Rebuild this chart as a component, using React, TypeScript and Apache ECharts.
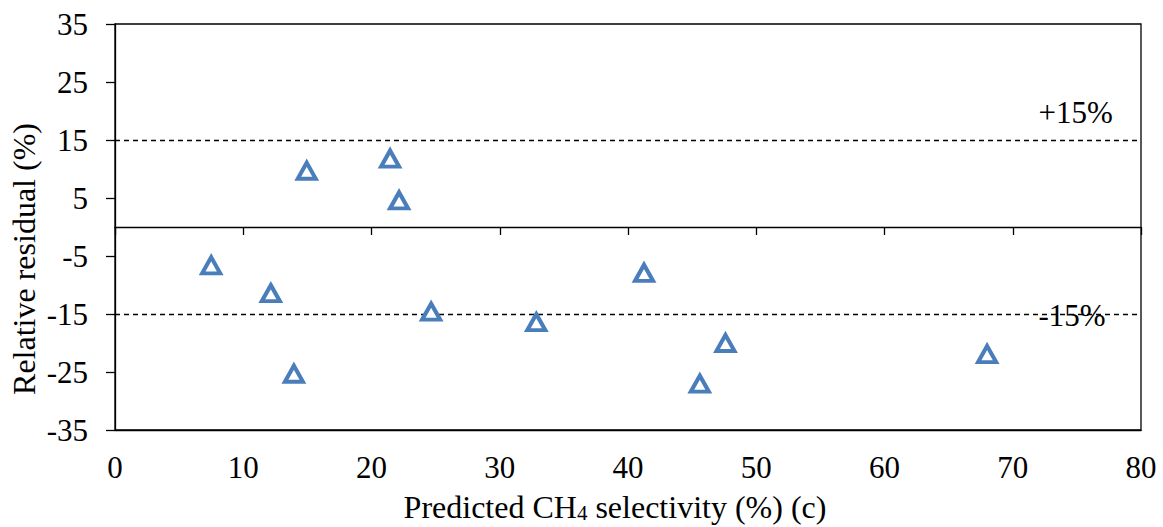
import React, { useEffect, useRef } from "react";
import * as echarts from "echarts";

const xValues = [7.5, 12.15, 13.95, 14.95, 21.45, 22.15, 24.65, 32.85, 41.25, 45.6, 47.6, 68.0];
const yValues = [-6.6, -11.4, -25.3, 9.7, 11.8, 4.6, -14.6, -16.4, -7.9, -27.0, -20.0, -21.9];
const limitLines = [15, -15];
const limitLabels = ["+15%", "-15%"];
const xTitle = "Predicted CH";
const yTitle = "Relative residual (%)";

const FONT = "Liberation Serif";

export default function App() {
  const ref = useRef<HTMLDivElement>(null);
  useEffect(() => {
    if (!ref.current) return;
    const chart = echarts.init(ref.current, undefined, { renderer: "svg" });
    const data = xValues.map((x, i) => [x, yValues[i]]);
    chart.setOption({
      animation: false,
      backgroundColor: "#ffffff",
      textStyle: { fontFamily: FONT },
      grid: {
        left: 115,
        top: 24,
        right: 22,
        bottom: 97,
        show: true,
        borderColor: "#000",
        borderWidth: 1.3,
      },
      xAxis: [
        {
          type: "value",
          min: 0,
          max: 80,
          interval: 10,
          position: "bottom",
          axisLine: { show: true, onZero: false, lineStyle: { color: "#000", width: 1.3 } },
          axisTick: { show: false },
          splitLine: { show: false },
          axisLabel: { color: "#000", fontSize: 31, fontFamily: FONT, margin: 22 },
        },
        {
          type: "value",
          min: 0,
          max: 80,
          interval: 10,
          position: "top",
          axisLine: { show: true, onZero: true, lineStyle: { color: "#000", width: 1.3 } },
          axisTick: { show: true, inside: true, length: 8, lineStyle: { color: "#000", width: 1.3 } },
          splitLine: { show: false },
          axisLabel: { show: false },
        },
      ],
      yAxis: {
        type: "value",
        min: -35,
        max: 35,
        interval: 10,
        axisLine: { show: true, onZero: false, lineStyle: { color: "#000", width: 1.3 } },
        axisTick: { show: true, length: 9, lineStyle: { color: "#000", width: 1.3 } },
        splitLine: { show: false },
        axisLabel: { color: "#000", fontSize: 31, fontFamily: FONT, margin: 27 },
      },
      series: [
        {
          type: "scatter",
          xAxisIndex: 0,
          data,
          symbol: "triangle",
          symbolSize: [18, 16],
          itemStyle: { color: "#ffffff", borderColor: "#4a7ebb", borderWidth: 4, opacity: 1 },
          markLine: {
            silent: true,
            symbol: "none",
            label: { show: false },
            lineStyle: { color: "#000", type: [5, 4], width: 1.3 },
            data: limitLines.map((v) => ({ yAxis: v })),
          },
          markPoint: {
            silent: true,
            symbol: "circle",
            symbolSize: 0,
            data: limitLines.map((v, i) => ({
              coord: [72, v],
              label: {
                show: true,
                formatter: limitLabels[i],
                position: "right",
                distance: 0,
                offset: [0, i === 0 ? -28 : 1],
                color: "#000",
                fontSize: 31,
                fontFamily: FONT,
              },
            })),
          },
          z: 5,
        },
      ],
      graphic: [
        {
          type: "text",
          x: 24,
          y: 259,
          rotation: Math.PI / 2,
          style: {
            text: yTitle,
            fontSize: 32,
            fontFamily: FONT,
            fill: "#000",
            align: "center",
            verticalAlign: "middle",
          },
        },
        {
          type: "text",
          x: 615,
          y: 506,
          style: {
            text: "{a|" + xTitle + "}{s|4}{a| selectivity (%) (c)}",
            align: "center",
            verticalAlign: "middle",
            fontFamily: FONT,
            rich: {
              a: { fontSize: 32, fontFamily: FONT, fill: "#000", lineHeight: 34, verticalAlign: "bottom" },
              s: { fontSize: 21, fontFamily: FONT, fill: "#000", lineHeight: 22, verticalAlign: "bottom" },
            },
          },
        },
      ],
    });
    return () => chart.dispose();
  }, []);
  return (
    <div
      ref={ref}
      style={{ position: "fixed", left: 0, top: 0, width: 1163, height: 527 }}
    />
  );
}
